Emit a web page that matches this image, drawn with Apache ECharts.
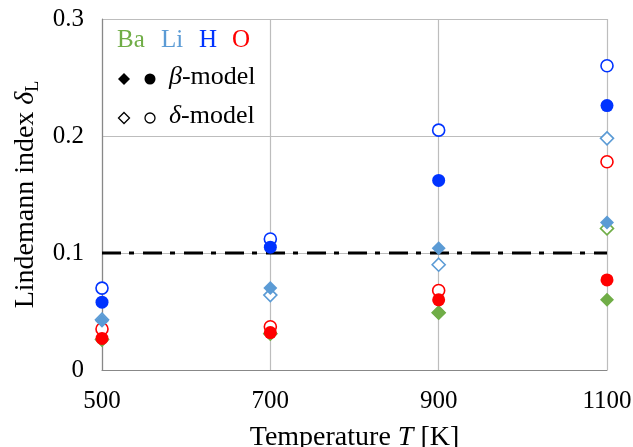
<!DOCTYPE html>
<html>
<head>
<meta charset="utf-8">
<script src="https://cdn.jsdelivr.net/npm/echarts@6/dist/echarts.min.js"></script>
<style>html,body{margin:0;padding:0;background:#fff}#c{width:633px;height:447px}</style>
</head>
<body>
<div id="c"></div>
<script>
// ---- data ----
const temperatures = [500, 700, 900, 1100];
const baBeta  = [0.026, 0.031, 0.049, 0.060];
const liBeta  = [0.042, 0.070, 0.104, 0.126];
const hBeta   = [0.058, 0.105, 0.162, 0.226];
const oBeta   = [0.027, 0.032, 0.060, 0.077];
const baDelta = [0.026, 0.031, 0.049, 0.121];
const liDelta = [0.043, 0.064, 0.090, 0.198];
const hDelta  = [0.070, 0.112, 0.205, 0.260];
const oDelta  = [0.035, 0.037, 0.068, 0.178];
const threshold = 0.1;
const xTicks = [500, 700, 900, 1100];
const yTicks = [0, 0.1, 0.2, 0.3];

const colors = { Ba: '#70AD47', Li: '#5B9BD5', H: '#0033FF', O: '#FF0000' };
const FONT = '"Liberation Serif", "Times New Roman", serif';

function pts(vals) { return temperatures.map((t, i) => [t, vals[i]]); }
function filled(name, vals, sym, col) {
  return { name: name, type: 'scatter', data: pts(vals), symbol: sym, symbolSize: sym === 'diamond' ? 14 : 13,
    itemStyle: { color: col, opacity: 1 }, z: 5, silent: true };
}
function open(name, vals, sym, col) {
  return { name: name, type: 'scatter', data: pts(vals), symbol: sym, symbolSize: sym === 'diamond' ? 13 : 12,
    itemStyle: { color: '#fff', borderColor: col, borderWidth: 1.6, opacity: 1 }, z: 4, silent: true };
}

const chart = echarts.init(document.getElementById('c'), null, { renderer: 'canvas' });
const gl = 102, gt = 19, gr = 26, gb = 77;
chart.setOption({
  animation: false,
  backgroundColor: '#fff',
  grid: { left: gl, top: gt, right: gr, bottom: gb, containLabel: false, outerBoundsMode: 'none' },
  xAxis: {
    type: 'value', min: xTicks[0], max: xTicks[xTicks.length - 1], interval: 200,
    axisLine: { show: true, lineStyle: { color: '#888', width: 1.2 } },
    axisTick: { show: false },
    splitLine: { show: true, lineStyle: { color: '#bdbdbd', width: 1.2 } },
    axisLabel: { fontFamily: FONT, fontSize: 25, color: '#000', margin: 19, formatter: v => String(v) },
    name: '{n|Temperature }{i|T}{n| [K]}', nameLocation: 'middle', nameGap: 51,
    nameTextStyle: { rich: {
      n: { fontFamily: FONT, fontSize: 28, color: '#000', lineHeight: 34 },
      i: { fontFamily: FONT, fontSize: 28, fontStyle: 'italic', color: '#000', lineHeight: 34 } } }
  },
  yAxis: {
    type: 'value', min: yTicks[0], max: yTicks[yTicks.length - 1], interval: 0.1,
    axisLine: { show: true, lineStyle: { color: '#888', width: 1.2 } },
    axisTick: { show: false },
    splitLine: { show: true, lineStyle: { color: '#bdbdbd', width: 1.2 } },
    axisLabel: { fontFamily: FONT, fontSize: 25, color: '#000', margin: 18,
      formatter: v => (Math.abs(v) < 1e-9 ? '0' : v.toFixed(1)) },
    name: '{n|Lindemann index }{i|δ}{s|L}', nameLocation: 'middle', nameGap: 57,
    nameTextStyle: { rich: {
      n: { fontFamily: FONT, fontSize: 28, color: '#000', lineHeight: 34 },
      i: { fontFamily: FONT, fontSize: 28, fontStyle: 'italic', color: '#000', lineHeight: 34 },
      s: { fontFamily: FONT, fontSize: 18, color: '#000', lineHeight: 34, padding: [14, 0, 0, 0] } } }
  },
  series: [
    { type: 'line', data: [[xTicks[0], threshold], [xTicks[xTicks.length - 1], threshold]], symbol: 'none', silent: true, z: 3,
      lineStyle: { color: '#000', width: 3, type: [19, 8, 5, 9] } },
    open('Ba δ', baDelta, 'diamond', colors.Ba),
    open('Li δ', liDelta, 'diamond', colors.Li),
    open('H δ', hDelta, 'circle', colors.H),
    open('O δ', oDelta, 'circle', colors.O),
    filled('Ba β', baBeta, 'diamond', colors.Ba),
    filled('Li β', liBeta, 'diamond', colors.Li),
    filled('H β', hBeta, 'circle', colors.H),
    filled('O β', oBeta, 'circle', colors.O)
  ],
  graphic: [
    { type: 'text', left: 117, top: 28, style: { text: 'Ba', font: '25px ' + FONT, fill: colors.Ba } },
    { type: 'text', left: 161, top: 28, style: { text: 'Li', font: '25px ' + FONT, fill: colors.Li } },
    { type: 'text', left: 199, top: 28, style: { text: 'H', font: '25px ' + FONT, fill: colors.H } },
    { type: 'text', left: 232, top: 28, style: { text: 'O', font: '25px ' + FONT, fill: colors.O } },
    { type: 'polygon', shape: { points: [[124, 73], [130, 79], [124, 85], [118, 79]] }, style: { fill: '#000' } },
    { type: 'circle', shape: { cx: 150, cy: 79, r: 5.5 }, style: { fill: '#000' } },
    { type: 'text', left: 169, top: 64, style: { rich: {
        i: { font: 'italic 26px ' + FONT, fill: '#000' }, n: { font: '26px ' + FONT, fill: '#000' } },
        text: '{i|β}{n|-model}' } },
    { type: 'polygon', shape: { points: [[124, 112.5], [129.5, 118], [124, 123.5], [118.5, 118]] }, style: { fill: '#fff', stroke: '#000', lineWidth: 1.3 } },
    { type: 'circle', shape: { cx: 150, cy: 118, r: 5 }, style: { fill: '#fff', stroke: '#000', lineWidth: 1.3 } },
    { type: 'text', left: 169, top: 103, style: { rich: {
        i: { font: 'italic 26px ' + FONT, fill: '#000' }, n: { font: '26px ' + FONT, fill: '#000' } },
        text: '{i|δ}{n|-model}' } }
  ]
});
</script>
</body>
</html>
